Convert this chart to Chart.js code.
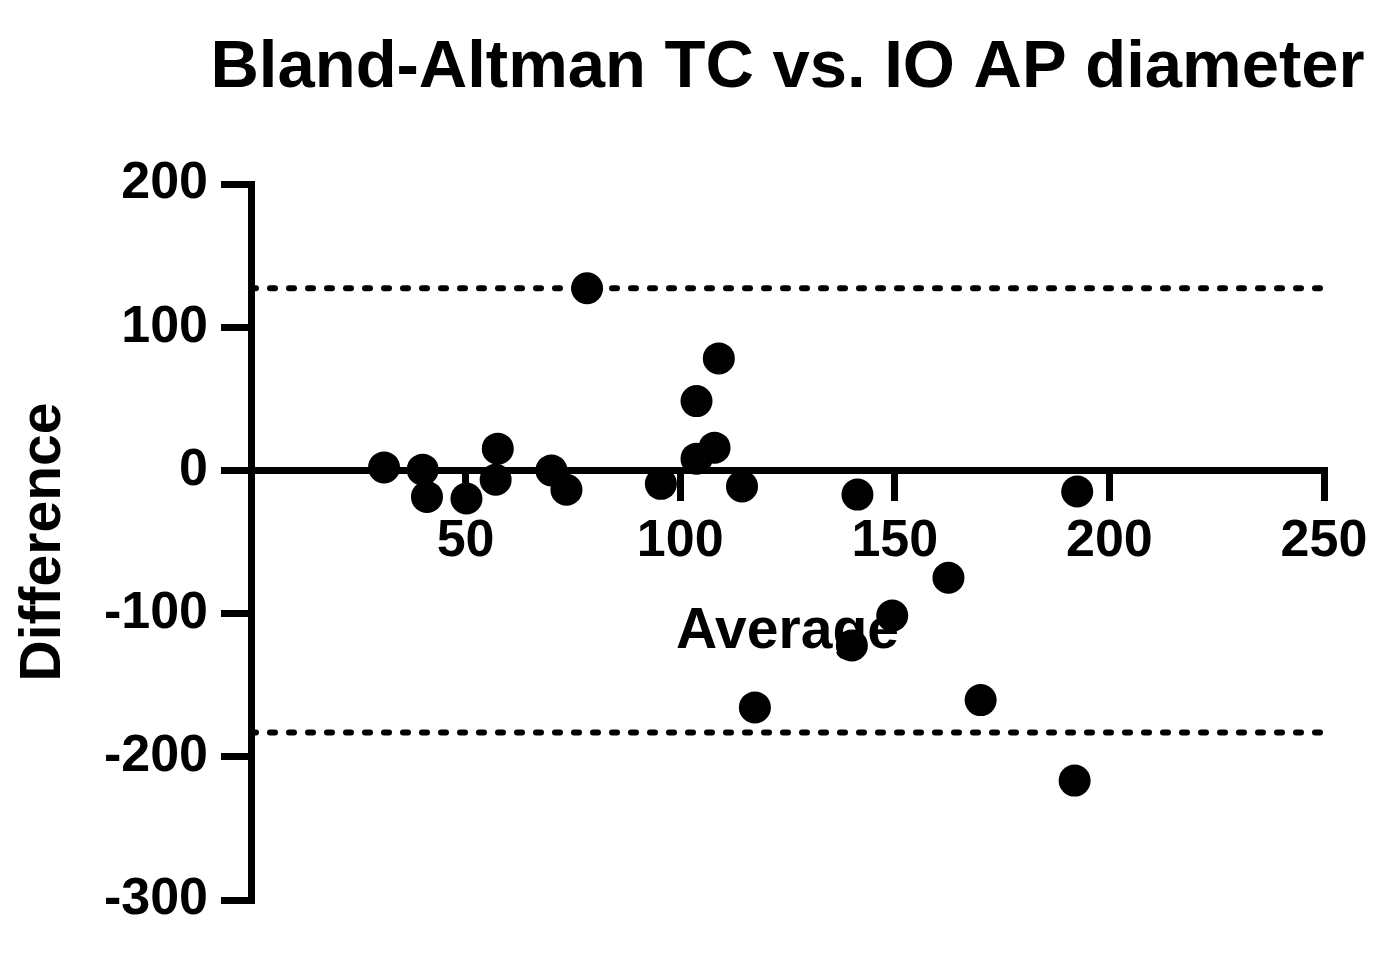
<!DOCTYPE html>
<html lang="en">

<head>
    <meta charset="UTF-8">
    <title>Bland-Altman TC vs. IO AP diameter</title>
    <style>
        html, body {
            margin: 0;
            padding: 0;
            background: #fff;
        }

        .wrap {
            width: 1392px;
            height: 960px;
            position: relative;
        }
    </style>
</head>

<body>
    <div class="wrap">
        <canvas id="ba-chart"></canvas>
    </div>
    <script src="https://cdn.jsdelivr.net/npm/chart.js"></script>
    <script>
        // Bland-Altman data: average of the two methods vs. their difference
        const averages = [31.0, 40.0, 41.0, 50.2, 57.5, 57.0, 70.0, 73.5, 78.3, 95.5, 103.8, 103.8,
            108.0, 109.0, 114.4, 117.4, 140.0, 141.3, 149.4, 162.5, 170.0, 192.5, 191.9];
        const differences = [2.1, 0.5, -18.5, -19.6, 15.2, -6.5, 0.0, -13.5, 127.2, -9.4, 48.4, 8.2,
            15.9, 78.2, -11.2, -165.5, -122.3, -16.9, -101.4, -75.0, -160.4, -14.7, -216.6];
        // upper and lower limits of agreement
        const limitsOfAgreement = [127.2, -183.1];
        const xTickValues = [0, 50, 100, 150, 200, 250];
        const yTickValues = [-300, -200, -100, 0, 100, 200];
        const chartTitle = 'Bland-Altman TC vs. IO AP diameter';

        const xMin = xTickValues[0], xMax = xTickValues[xTickValues.length - 1];
        const yMin = yTickValues[0], yMax = yTickValues[yTickValues.length - 1];

        Chart.defaults.font.family = '"Liberation Sans", Arial, sans-serif';
        Chart.defaults.color = '#000';

        const points = averages.map((a, i) => ({ x: a, y: differences[i] }));

        const limitSets = limitsOfAgreement.map(v => ({
            type: 'line',
            data: [{ x: xMin, y: v }, { x: xMax, y: v }],
            borderColor: '#000',
            borderWidth: 6,
            borderDash: [5, 14],
            borderCapStyle: 'round',
            pointRadius: 0,
            fill: false
        }));

        // title centred over the plot area, allowed to run wider than it
        const plotTitle = {
            id: 'plotTitle',
            afterDraw(chart) {
                const { ctx, chartArea } = chart;
                ctx.save();
                ctx.font = 'bold 67px "Liberation Sans", Arial, sans-serif';
                ctx.fillStyle = '#000';
                ctx.textAlign = 'center';
                ctx.textBaseline = 'middle';
                ctx.fillText(chartTitle, (chartArea.left + chartArea.right) / 2, 69);
                ctx.restore();
            }
        };

        const ctx = document.getElementById('ba-chart').getContext('2d');
        new Chart(ctx, {
            type: 'scatter',
            data: {
                datasets: [
                    ...limitSets,
                    {
                        data: points,
                        backgroundColor: '#000',
                        borderWidth: 0,
                        pointRadius: 16,
                        pointHoverRadius: 16
                    }
                ]
            },
            options: {
                responsive: true,
                maintainAspectRatio: false,
                animation: false,
                layout: { padding: { left: 0, right: 68, top: 184, bottom: 60 } },
                plugins: {
                    legend: { display: false },
                    tooltip: { enabled: false },
                    title: { display: false }
                },
                scales: {
                    x: {
                        type: 'linear',
                        min: xMin,
                        max: xMax,
                        position: { y: 0 },
                        afterBuildTicks: s => { s.ticks = xTickValues.map(v => ({ value: v })); },
                        border: { color: '#000', width: 7 },
                        grid: { drawOnChartArea: false, color: '#000', lineWidth: 7, tickLength: 27 },
                        ticks: {
                            color: '#000',
                            padding: 13,
                            font: { size: 52, weight: 'bold' },
                            callback: v => v === 0 ? '' : v
                        },
                        title: {
                            display: true,
                            text: 'Average',
                            color: '#000',
                            font: { size: 57, weight: 'bold' },
                            padding: { top: 12, bottom: 0 }
                        }
                    },
                    y: {
                        type: 'linear',
                        min: yMin,
                        max: yMax,
                        afterBuildTicks: s => { s.ticks = yTickValues.map(v => ({ value: v })); },
                        afterFit: s => { s.width = 251; },
                        border: { color: '#000', width: 7 },
                        grid: { drawOnChartArea: false, color: '#000', lineWidth: 7, tickLength: 30 },
                        ticks: {
                            color: '#000',
                            padding: 13,
                            font: { size: 52, weight: 'bold' }
                        },
                        title: {
                            display: true,
                            text: 'Difference',
                            color: '#000',
                            font: { size: 57, weight: 'bold' },
                            padding: { top: 10, bottom: 0 }
                        }
                    }
                }
            },
            plugins: [plotTitle]
        });
    </script>
</body>

</html>
